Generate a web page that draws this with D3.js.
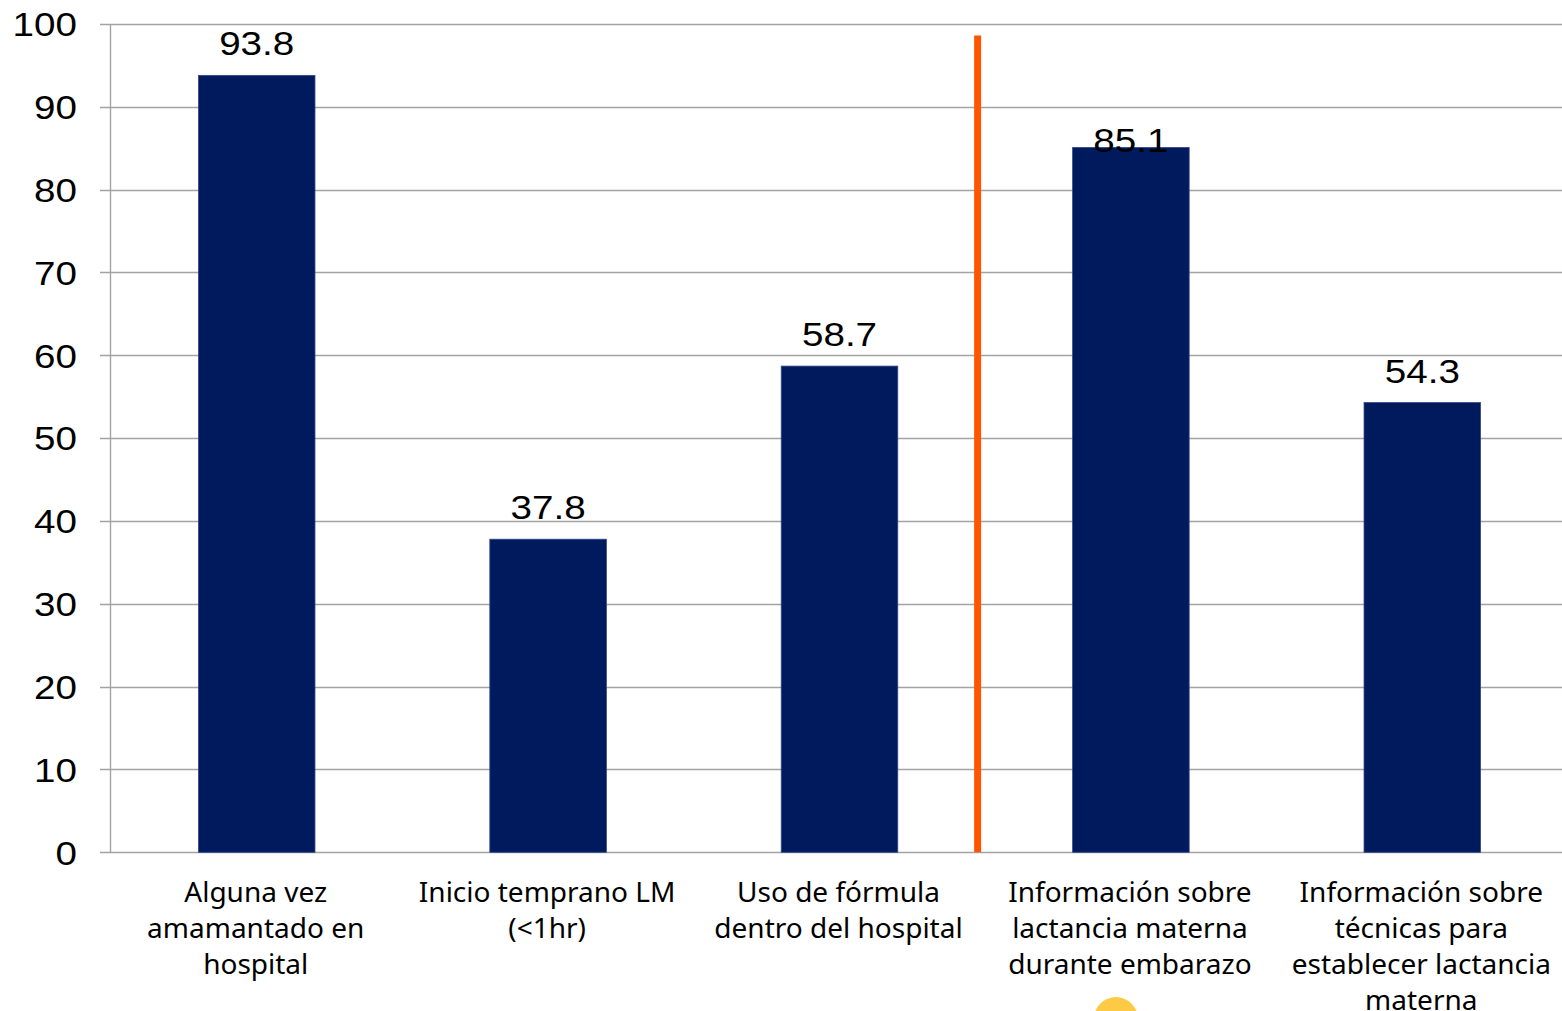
<!DOCTYPE html>
<html lang="es">
<head>
<meta charset="utf-8">
<script src="https://cdn.jsdelivr.net/npm/d3@7"></script>
<style>
  html, body { margin: 0; padding: 0; background: #fff; }
  svg { display: block; }
</style>
</head>
<body>
<svg id="chart" width="1562" height="1011"></svg>
<script>
// Indicadores de lactancia materna (%)
const categories = [
  "Alguna vez amamantado en hospital",
  "Inicio temprano LM (<1hr)",
  "Uso de fórmula dentro del hospital",
  "Información sobre lactancia materna durante embarazo",
  "Información sobre técnicas para establecer lactancia materna"
];
const categoryLines = [
  ["Alguna vez", "amamantado en", "hospital"],
  ["Inicio temprano LM", "(<1hr)"],
  ["Uso de fórmula", "dentro del hospital"],
  ["Información sobre", "lactancia materna", "durante embarazo"],
  ["Información sobre", "técnicas para", "establecer lactancia", "materna"]
];
const values = [93.8, 37.8, 58.7, 85.1, 54.3];
const yTicks = [0, 10, 20, 30, 40, 50, 60, 70, 80, 90, 100];

const W = 1562, H = 1011;
const svg = d3.select("#chart");

const x = d3.scaleBand()
  .domain(categories)
  .range([111, 1568])
  .paddingInner(0.6)
  .paddingOuter(0.3);

const y = d3.scaleLinear()
  .domain([0, 100])
  .range([852.3, 24]);

const numFont = "'Liberation Sans', Arial, sans-serif";
const catFont = "'Noto Sans', 'Open Sans', sans-serif";
const stretch = 1.17;

// horizontal gridlines
svg.append("g")
  .selectAll("line")
  .data(yTicks)
  .join("line")
  .attr("x1", 100).attr("x2", W)
  .attr("y1", d => Math.round(y(d)) + 0.5)
  .attr("y2", d => Math.round(y(d)) + 0.5)
  .attr("stroke", "#a3a3a3")
  .attr("stroke-width", 1.4);

// vertical axis line
svg.append("line")
  .attr("x1", 110.5).attr("x2", 110.5)
  .attr("y1", y(100)).attr("y2", y(0))
  .attr("stroke", "#a3a3a3")
  .attr("stroke-width", 1.4);

// y tick labels
svg.append("g")
  .selectAll("text")
  .data(yTicks)
  .join("text")
  .attr("transform", d => `translate(77,${y(d) + 12.3}) scale(${stretch},1)`)
  .attr("text-anchor", "end")
  .attr("font-family", numFont)
  .attr("font-size", 33)
  .attr("fill", "#000")
  .text(d => d);

// bars
const rows = categories.map((c, i) => ({ cat: c, value: values[i], lines: categoryLines[i] }));

svg.append("g")
  .selectAll("rect")
  .data(rows)
  .join("rect")
  .attr("x", d => x(d.cat))
  .attr("width", x.bandwidth())
  .attr("y", d => y(d.value))
  .attr("height", d => y(0) - y(d.value))
  .attr("fill", "#001a5e")
  .attr("stroke", "#34488a")
  .attr("stroke-width", 0.8);

// value labels (the fourth sits lower, overlapping its bar top)
const labelGap = i => (i === 3 ? -5 : 20);
svg.append("g")
  .selectAll("text")
  .data(rows)
  .join("text")
  .attr("transform", (d, i) => `translate(${x(d.cat) + x.bandwidth() / 2},${y(d.value) - labelGap(i)}) scale(${stretch},1)`)
  .attr("text-anchor", "middle")
  .attr("font-family", numFont)
  .attr("font-size", 33)
  .attr("fill", "#000")
  .text(d => d.value.toFixed(1));

// separator between hospital practices and prenatal information
const dividerX = x(categories[3]) - 95;
svg.append("line")
  .attr("x1", dividerX).attr("x2", dividerX)
  .attr("y1", y(98.6)).attr("y2", y(0))
  .attr("stroke", "#ff5500")
  .attr("stroke-width", 7);

// category labels
const catG = svg.append("g");
rows.forEach(d => {
  const cx = x(d.cat) + x.bandwidth() / 2 - 1;
  d.lines.forEach((ln, j) => {
    catG.append("text")
      .attr("transform", `translate(${cx},${902 + j * 36}) scale(1.0,1)`)
      .attr("text-anchor", "middle")
      .attr("font-family", catFont)
      .attr("font-size", 28)
      .attr("fill", "#000")
      .text(ln);
  });
});

// yellow marker at the lower edge
svg.append("circle")
  .attr("cx", x(categories[3]) + x.bandwidth() / 2 - 15)
  .attr("cy", 1019)
  .attr("r", 22)
  .attr("fill", "#fdca45");
</script>
</body>
</html>
